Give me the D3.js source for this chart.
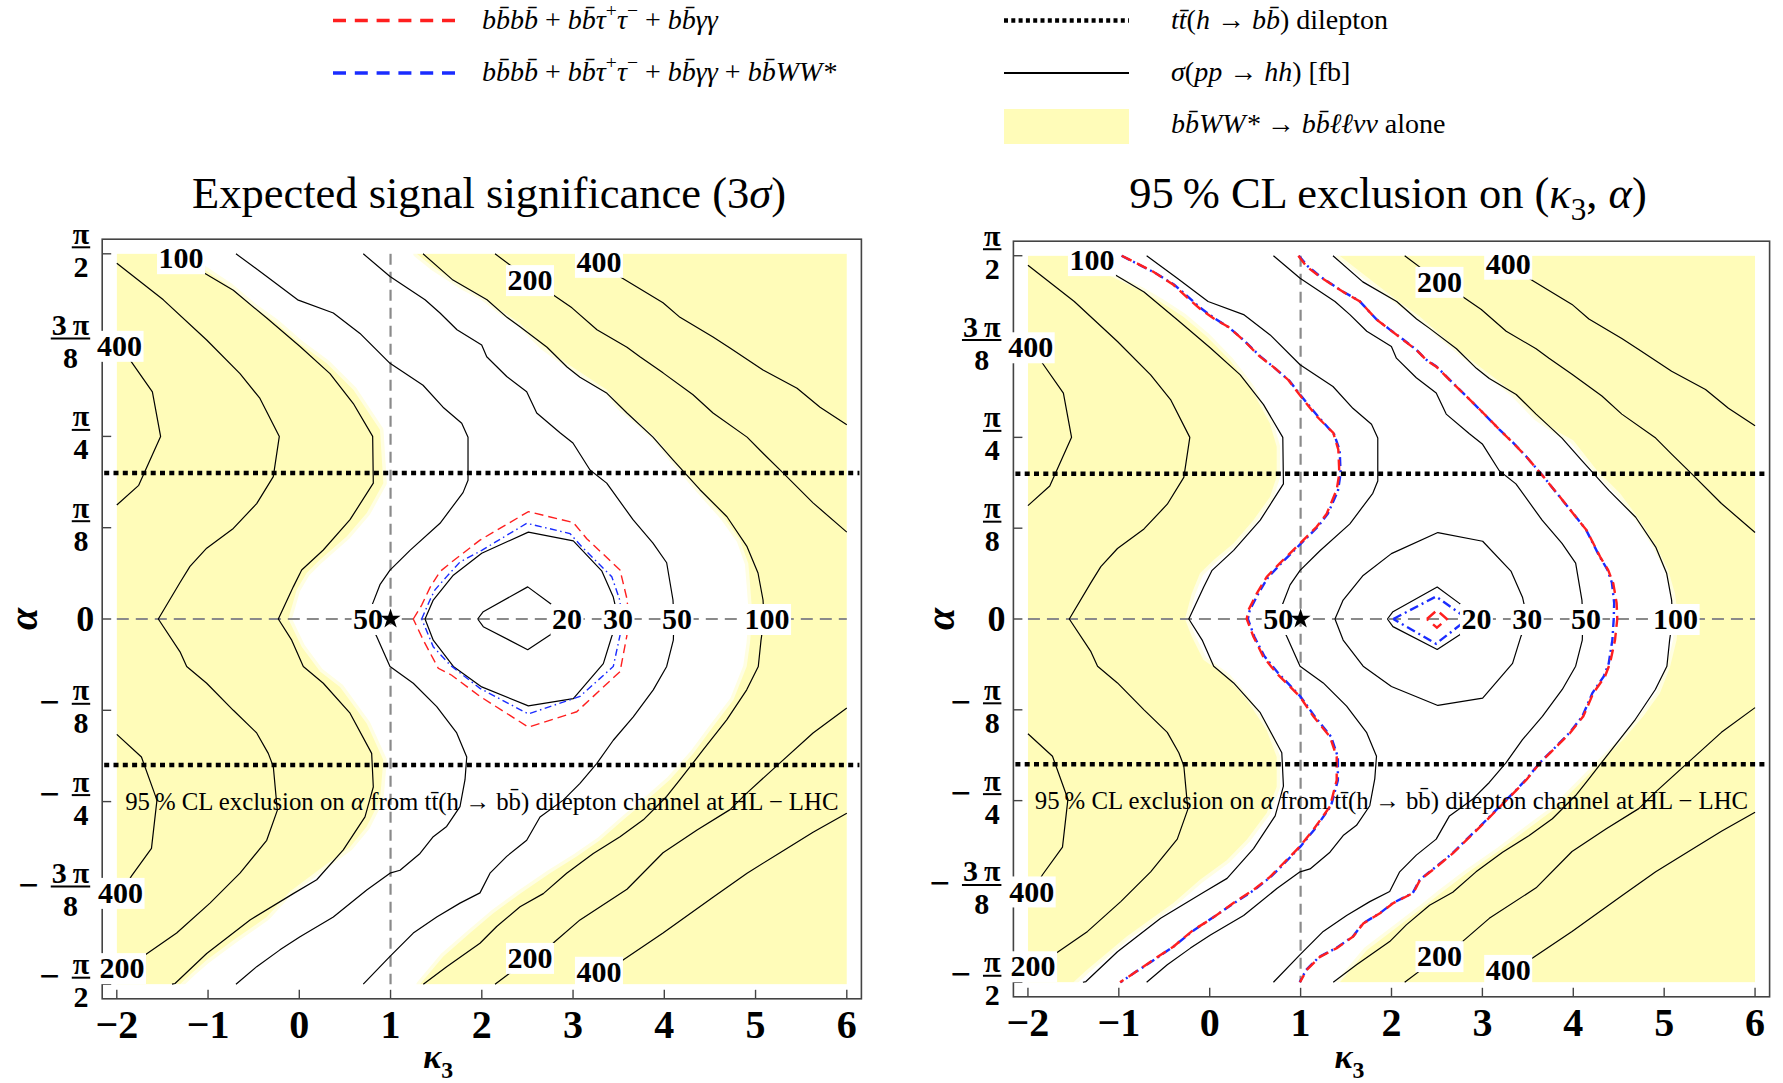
<!DOCTYPE html>
<html>
<head>
<meta charset="utf-8">
<script src="https://cdn.jsdelivr.net/npm/d3@7"></script>
<style>
  body { margin: 0; background: #fff; }
  svg { display: block; }
  text { font-family: "Liberation Serif", "Times New Roman", serif; fill: #000; }
</style>
</head>
<body>
<svg id="fig" width="1783" height="1083"></svg>
<script>
// ---------------------------------------------------------------
// Data: points are [kappa3, alpha / pi]
// ---------------------------------------------------------------
const kappaTicks = [-2, -1, 0, 1, 2, 3, 4, 5, 6];
const kappaTickLabels = ["\u22122", "\u22121", "0", "1", "2", "3", "4", "5", "6"];
const alphaTicks = [0.5, 0.375, 0.25, 0.125, 0, -0.125, -0.25, -0.375, -0.5];
const alphaTickSign = ["", "", "", "", "", "\u2212", "\u2212", "\u2212", "\u2212"];
const alphaTickNum = ["\u03c0", "3\u2009\u03c0", "\u03c0", "\u03c0", "0", "\u03c0", "\u03c0", "3\u2009\u03c0", "\u03c0"];
const alphaTickDen = ["2", "8", "4", "8", "", "8", "4", "8", "2"];

// tt(h -> bb) dilepton 95% CL bounds on alpha
const tthBounds = [0.2, -0.2];
// SM point
const smPoint = [1, 0];

// sigma(pp -> hh) contours [fb]
const sigma20 = [[1.955,0],[2.016,0.01],[2.503,0.044],[2.747,0.0215],[2.94,0],[2.747,-0.022],[2.503,-0.042],[2.016,-0.0105],[1.955,0]];
const sigma30 = [[1.378,0],[1.468,0.026],[1.688,0.06],[1.999,0.09],[2.51,0.119],[3.003,0.107],[3.314,0.066],[3.441,0.03],[3.496,0],[3.424,-0.024],[3.332,-0.061],[3.003,-0.109],[2.51,-0.119],[1.999,-0.093],[1.688,-0.065],[1.468,-0.029],[1.378,0]];
const sigma50Left = [[-0.694,0.5],[-0.357,0.469],[-0.018,0.437],[0.373,0.419],[0.665,0.391],[0.994,0.35],[1.356,0.32],[1.575,0.29],[1.78,0.268],[1.849,0.249],[1.849,0.19],[1.794,0.173],[1.542,0.131],[1.213,0.094],[0.994,0.067],[0.884,0.047],[0.797,0.019],[0.75,0],[0.848,-0.024],[0.994,-0.065],[1.249,-0.088],[1.506,-0.12],[1.725,-0.156],[1.835,-0.189],[1.816,-0.22],[1.761,-0.257],[1.615,-0.284],[1.468,-0.298],[1.323,-0.321],[1.104,-0.344],[0.994,-0.348],[0.739,-0.371],[0.373,-0.408],[0.008,-0.435],[-0.212,-0.453],[-0.467,-0.476],[-0.694,-0.5]];
const sigma50Right = [[0.701,0.5],[0.994,0.469],[1.378,0.437],[1.542,0.419],[1.728,0.396],[1.999,0.375],[2.054,0.359],[2.273,0.332],[2.492,0.311],[2.602,0.282],[2.857,0.255],[2.999,0.241],[3.186,0.204],[3.369,0.186],[3.657,0.136],[3.876,0.104],[4.026,0.077],[4.095,0.026],[4.106,0],[4.099,-0.029],[4.026,-0.065],[3.879,-0.097],[3.66,-0.134],[3.441,-0.166],[3.259,-0.198],[3.076,-0.225],[2.893,-0.248],[2.638,-0.271],[2.492,-0.303],[2.273,-0.325],[2.09,-0.348],[1.98,-0.375],[1.761,-0.389],[1.506,-0.408],[1.249,-0.43],[0.994,-0.462],[0.701,-0.5]];
const sigma100Left = [[-1.395,0.5],[-1.033,0.473],[-0.723,0.45],[-0.357,0.412],[0.008,0.373],[0.336,0.336],[0.592,0.295],[0.804,0.25],[0.811,0.186],[0.556,0.136],[0.263,0.0945],[0.026,0.067],[-0.066,0.044],[-0.23,0],[-0.083,-0.029],[0.044,-0.065],[0.263,-0.088],[0.556,-0.129],[0.793,-0.184],[0.811,-0.23],[0.72,-0.271],[0.482,-0.316],[0.191,-0.357],[-0.066,-0.376],[-0.54,-0.412],[-1.015,-0.458],[-1.362,-0.499],[-1.395,-0.5]];
const sigma100Right = [[1.356,0.5],[1.684,0.464],[2.057,0.437],[2.276,0.413],[2.419,0.4],[2.715,0.372],[2.934,0.345],[3.076,0.331],[3.372,0.309],[3.591,0.282],[3.876,0.249],[4.095,0.218],[4.391,0.177],[4.687,0.14],[4.907,0.099],[5.027,0.063],[5.082,0.026],[5.093,0],[5.06,-0.029],[5.03,-0.065],[4.903,-0.097],[4.684,-0.138],[4.427,-0.179],[4.172,-0.22],[4.026,-0.243],[3.77,-0.275],[3.515,-0.298],[3.222,-0.321],[2.93,-0.348],[2.674,-0.376],[2.419,-0.394],[2.163,-0.421],[1.98,-0.444],[1.615,-0.476],[1.359,-0.5]];
const sigma200Left = [[-2,0.487],[-1.49,0.437],[-1.015,0.382],[-0.65,0.336],[-0.431,0.302],[-0.219,0.25],[-0.285,0.195],[-0.467,0.158],[-0.723,0.124],[-1.015,0.097],[-1.198,0.072],[-1.307,0.05],[-1.545,0],[-1.307,-0.045],[-1.234,-0.065],[-1.015,-0.088],[-0.723,-0.125],[-0.467,-0.156],[-0.34,-0.184],[-0.285,-0.202],[-0.241,-0.262],[-0.357,-0.303],[-0.65,-0.348],[-0.979,-0.389],[-1.344,-0.43],[-1.691,-0.46],[-2,-0.487]];
const sigma200RightUpper = [[2.145,0.5],[2.528,0.464],[2.78,0.444],[2.988,0.426],[3.262,0.396],[3.591,0.372],[3.733,0.359],[3.986,0.337],[4.315,0.307],[4.534,0.282],[4.907,0.249],[5.082,0.227],[5.301,0.2],[5.63,0.159],[6,0.119]];
const sigma200RightLower = [[6,-0.122],[5.63,-0.156],[5.268,-0.197],[4.907,-0.238],[4.72,-0.261],[4.359,-0.289],[3.986,-0.32],[3.591,-0.37],[3.076,-0.412],[2.78,-0.444],[2.528,-0.464],[2.145,-0.5]];
const sigma400LeftUpper = [[-2,0.385],[-1.84,0.352],[-1.61,0.311],[-1.52,0.25],[-1.76,0.183],[-2,0.156]];
const sigma400LeftLower = [[-2,-0.158],[-1.73,-0.189],[-1.56,-0.248],[-1.62,-0.314],[-1.84,-0.352],[-2,-0.385]];
const sigma400RightUpper = [[3.13,0.5],[3.284,0.489],[3.537,0.467],[3.986,0.433],[4.172,0.413],[4.534,0.386],[4.72,0.371],[5.082,0.341],[5.455,0.316],[5.707,0.29],[6,0.266]];
const sigma400RightLower = [[6,-0.266],[5.63,-0.292],[5.268,-0.32],[4.907,-0.348],[4.534,-0.381],[3.986,-0.43],[3.548,-0.467],[3.284,-0.483],[3.13,-0.5]];

const sigmaContours = [sigma20, sigma30, sigma50Left, sigma50Right, sigma100Left, sigma100Right,
  sigma200Left, sigma200RightUpper, sigma200RightLower,
  sigma400LeftUpper, sigma400LeftLower, sigma400RightUpper, sigma400RightLower];

// contour labels
const labelText  = ["100", "400", "200", "400", "50", "20", "30", "50", "100", "400", "200", "200", "400"];
const labelKappa = [-1.296, -1.97, 2.528, 3.284, 0.753, 2.934, 3.493, 4.14, 5.126, -1.959, -1.943, 2.528, 3.284];
const labelAlpha = [0.494, 0.374, 0.464, 0.489, 0, 0, 0, 0, 0, -0.375, -0.478, -0.464, -0.483];

// 3 sigma discovery reach
const discRed = [[1.249,0],[1.341,0.019],[1.432,0.043],[1.542,0.065],[1.67,0.078],[1.98,0.108],[2.51,0.147],[3.003,0.132],[3.15,0.11],[3.515,0.067],[3.588,0.029],[3.616,0],[3.588,-0.024],[3.515,-0.072],[3.04,-0.127],[2.51,-0.148],[1.98,-0.106],[1.67,-0.077],[1.523,-0.0675],[1.359,-0.029],[1.249,0]];
const discBlue = [[1.341,0],[1.432,0.026],[1.487,0.04],[1.615,0.058],[1.761,0.078],[1.999,0.094],[2.492,0.131],[2.967,0.117],[3.095,0.099],[3.424,0.058],[3.507,0.028],[3.544,0],[3.515,-0.022],[3.441,-0.065],[3.076,-0.106],[2.51,-0.13],[1.98,-0.095],[1.652,-0.063],[1.468,-0.038],[1.341,0]];
// bbWW* alone, 3 sigma region
const discYellowLeft = [[-2,0.5],[-1.3,0.5],[-1.033,0.478],[-0.759,0.455],[-0.504,0.428],[-0.248,0.405],[0.008,0.377],[0.3,0.35],[0.592,0.314],[0.884,0.259],[0.921,0.186],[0.739,0.145],[0.519,0.113],[0.227,0.081],[0.081,0.063],[-0.028,0.04],[-0.121,0],[0.026,-0.038],[0.227,-0.072],[0.446,-0.093],[0.739,-0.143],[0.921,-0.193],[0.884,-0.248],[0.739,-0.284],[0.556,-0.312],[0.263,-0.339],[-0.102,-0.373],[-0.357,-0.408],[-0.723,-0.44],[-1.015,-0.467],[-1.179,-0.485],[-1.307,-0.5],[-2,-0.5]];
const discYellowRight = [[1.287,0.5],[1.468,0.482],[1.797,0.455],[2.016,0.441],[2.199,0.423],[2.419,0.405],[2.674,0.373],[2.93,0.35],[3.15,0.332],[3.369,0.314],[3.515,0.291],[3.734,0.268],[3.917,0.247],[4.099,0.218],[4.355,0.181],[4.647,0.14],[4.83,0.108],[4.921,0.076],[4.939,0.049],[4.958,0.017],[4.961,0],[4.939,-0.033],[4.903,-0.065],[4.757,-0.111],[4.537,-0.147],[4.318,-0.184],[4.062,-0.22],[3.807,-0.248],[3.551,-0.275],[3.295,-0.303],[3.04,-0.325],[2.747,-0.348],[2.419,-0.376],[2.126,-0.403],[1.871,-0.43],[1.578,-0.462],[1.323,-0.5],[6,-0.5],[6,0.5]];

// 95% CL exclusion
const exclRedLeft = [[-0.968,0.5],[-0.84,0.492],[-0.62,0.478],[-0.4,0.46],[-0.235,0.441],[-0.107,0.427],[0.04,0.414],[0.205,0.402],[0.37,0.384],[0.553,0.361],[0.7,0.347],[0.865,0.329],[0.993,0.308],[1.177,0.279],[1.36,0.256],[1.415,0.233],[1.426,0.2005],[1.397,0.178],[1.287,0.145],[1.177,0.127],[0.993,0.104],[0.773,0.077],[0.627,0.058],[0.517,0.035],[0.425,0.012],[0.407,0],[0.48,-0.024],[0.59,-0.052],[0.737,-0.075],[0.883,-0.093],[0.993,-0.107],[1.14,-0.134],[1.323,-0.162],[1.397,-0.19],[1.397,-0.222],[1.323,-0.258],[1.14,-0.29],[0.993,-0.313],[0.773,-0.341],[0.663,-0.355],[0.48,-0.373],[0.26,-0.391],[0.003,-0.414],[-0.18,-0.428],[-0.4,-0.451],[-0.62,-0.469],[-0.84,-0.488],[-0.987,-0.5]];
const exclBlueLeft = [[-0.97,0.5],[-0.83,0.491],[-0.61,0.477],[-0.39,0.46],[-0.225,0.442],[-0.1,0.428],[0.05,0.414],[0.215,0.401],[0.38,0.383],[0.56,0.361],[0.71,0.346],[0.875,0.328],[1.0,0.308],[1.19,0.279],[1.37,0.254],[1.43,0.232],[1.44,0.2],[1.41,0.176],[1.3,0.145],[1.19,0.127],[1.005,0.104],[0.79,0.077],[0.64,0.057],[0.53,0.034],[0.44,0.012],[0.42,0],[0.49,-0.024],[0.6,-0.051],[0.75,-0.074],[0.895,-0.093],[1.0,-0.107],[1.155,-0.134],[1.335,-0.162],[1.41,-0.19],[1.41,-0.222],[1.335,-0.257],[1.15,-0.29],[1.0,-0.313],[0.785,-0.341],[0.67,-0.355],[0.49,-0.373],[0.27,-0.391],[0.01,-0.413],[-0.17,-0.428],[-0.39,-0.45],[-0.61,-0.469],[-0.83,-0.487],[-0.98,-0.5]];
const exclRedRight = [[0.975,0.5],[1.067,0.485],[1.213,0.471],[1.47,0.45],[1.653,0.437],[1.837,0.412],[1.984,0.398],[2.13,0.384],[2.277,0.37],[2.387,0.356],[2.497,0.347],[2.68,0.324],[2.827,0.306],[2.974,0.288],[3.194,0.26],[3.34,0.242],[3.487,0.223],[3.67,0.196],[3.854,0.168],[4.0,0.145],[4.147,0.122],[4.294,0.086],[4.385,0.067],[4.44,0.049],[4.477,0.022],[4.484,0],[4.459,-0.029],[4.404,-0.061],[4.349,-0.079],[4.22,-0.102],[4.11,-0.134],[3.964,-0.157],[3.78,-0.18],[3.634,-0.198],[3.487,-0.221],[3.34,-0.24],[3.157,-0.263],[2.974,-0.286],[2.827,-0.304],[2.68,-0.322],[2.497,-0.341],[2.314,-0.359],[2.24,-0.377],[2.02,-0.391],[1.873,-0.405],[1.69,-0.419],[1.58,-0.437],[1.397,-0.453],[1.213,-0.465],[1.067,-0.483],[0.993,-0.5]];
const exclBlueRight = [[0.98,0.5],[1.075,0.486],[1.22,0.471],[1.46,0.451],[1.645,0.438],[1.83,0.413],[1.975,0.399],[2.125,0.385],[2.27,0.371],[2.38,0.357],[2.49,0.348],[2.675,0.325],[2.82,0.307],[2.965,0.289],[3.185,0.261],[3.335,0.243],[3.48,0.224],[3.665,0.197],[3.845,0.169],[3.995,0.146],[4.14,0.123],[4.285,0.087],[4.375,0.068],[4.425,0.05],[4.45,0.022],[4.445,0],[4.43,-0.029],[4.39,-0.061],[4.335,-0.079],[4.21,-0.102],[4.1,-0.134],[3.955,-0.157],[3.775,-0.18],[3.63,-0.198],[3.48,-0.221],[3.335,-0.24],[3.15,-0.263],[2.97,-0.286],[2.82,-0.304],[2.675,-0.322],[2.49,-0.341],[2.31,-0.359],[2.235,-0.377],[2.015,-0.391],[1.87,-0.405],[1.685,-0.419],[1.575,-0.437],[1.39,-0.453],[1.205,-0.465],[1.06,-0.483],[0.99,-0.5]];
const exclRedCore = [[2.39,0],[2.5,0.012],[2.61,0],[2.5,-0.012],[2.39,0]];
const exclBlueCore = [[2.02,0],[2.49,0.031],[2.84,0],[2.49,-0.034],[2.02,0]];
// bbWW* alone, 95% CL region
const exclYellowLeft = [[-2,0.5],[-1.45,0.5],[-1.08,0.471],[-0.767,0.453],[-0.547,0.437],[-0.29,0.416],[-0.033,0.389],[0.223,0.356],[0.443,0.32],[0.663,0.269],[0.737,0.237],[0.737,0.196],[0.663,0.168],[0.48,0.136],[0.26,0.104],[0.04,0.081],[-0.107,0.063],[-0.198,0.035],[-0.272,0],[-0.198,-0.024],[-0.07,-0.056],[0.187,-0.079],[0.407,-0.111],[0.627,-0.153],[0.737,-0.19],[0.737,-0.231],[0.627,-0.267],[0.407,-0.304],[0.187,-0.332],[-0.107,-0.359],[-0.4,-0.391],[-0.657,-0.414],[-0.913,-0.437],[-1.133,-0.46],[-1.353,-0.483],[-1.5,-0.5],[-2,-0.5]];
const exclYellowRight = [[1.43,0.5],[1.727,0.471],[2.057,0.439],[2.314,0.416],[2.607,0.384],[2.827,0.361],[3.12,0.333],[3.34,0.311],[3.597,0.278],[3.854,0.256],[4.0,0.246],[4.257,0.205],[4.514,0.173],[4.734,0.136],[4.917,0.0995],[5.045,0.067],[5.119,0.035],[5.155,0],[5.137,-0.029],[5.064,-0.066],[4.954,-0.102],[4.77,-0.134],[4.55,-0.166],[4.294,-0.198],[4.074,-0.226],[3.78,-0.263],[3.487,-0.29],[3.194,-0.318],[2.827,-0.35],[2.534,-0.378],[2.314,-0.4],[2.02,-0.428],[1.727,-0.456],[1.433,-0.5],[6,-0.5],[6,0.5]];

// ---------------------------------------------------------------
// Styles
// ---------------------------------------------------------------
const YELLOW = "#fffcb9";
const RED = "#ff1f1f";
const BLUE = "#1a2cff";
const bb = "b\u0304";

const svg = d3.select("#fig");

// Build mixed roman / italic / super- / subscript text
function richText(textSel, parts, size) {
  let shift = 0;
  parts.forEach(([str, kind]) => {
    const t = textSel.append("tspan").text(str);
    if (kind === "i") t.attr("font-style", "italic");
    if (kind === "sup" || kind === "sub") {
      const target = kind === "sup" ? -0.42 * size : 0.28 * size;
      t.attr("font-size", size * 0.7).attr("dy", target - shift);
      shift = target;
    } else if (shift !== 0) {
      t.attr("dy", -shift);
      shift = 0;
    }
  });
}

// ---------------------------------------------------------------
// Legend
// ---------------------------------------------------------------
const legend = svg.append("g");
const legFont = 28;
legend.append("line").attr("x1", 333).attr("x2", 455).attr("y1", 20.5).attr("y2", 20.5)
  .attr("stroke", RED).attr("stroke-width", 3.5).attr("stroke-dasharray", "13 8.8");
legend.append("line").attr("x1", 333).attr("x2", 455).attr("y1", 73).attr("y2", 73)
  .attr("stroke", BLUE).attr("stroke-width", 3.5).attr("stroke-dasharray", "13 8.8");
legend.append("line").attr("x1", 1004).attr("x2", 1129).attr("y1", 20.5).attr("y2", 20.5)
  .attr("stroke", "#000").attr("stroke-width", 4.5).attr("stroke-dasharray", "4 3.3");
legend.append("line").attr("x1", 1004).attr("x2", 1129).attr("y1", 73).attr("y2", 73)
  .attr("stroke", "#000").attr("stroke-width", 2.2);
legend.append("rect").attr("x", 1004).attr("y", 109).attr("width", 125).attr("height", 35).attr("fill", YELLOW);

const legendItems = [
  {x: 482, y: 29, parts: [["b" + bb + "b" + bb, "i"], [" + ", "r"], ["b" + bb + "\u03c4", "i"], ["+", "sup"], ["\u03c4", "i"], ["\u2212", "sup"], [" + ", "r"], ["b" + bb + "\u03b3\u03b3", "i"]]},
  {x: 482, y: 81, parts: [["b" + bb + "b" + bb, "i"], [" + ", "r"], ["b" + bb + "\u03c4", "i"], ["+", "sup"], ["\u03c4", "i"], ["\u2212", "sup"], [" + ", "r"], ["b" + bb + "\u03b3\u03b3", "i"], [" + ", "r"], ["b" + bb + "WW*", "i"]]},
  {x: 1171, y: 29, parts: [["tt\u0304", "i"], ["(", "r"], ["h", "i"], [" \u2192 ", "r"], ["b" + bb, "i"], [")", "r"], [" dilepton", "r"]]},
  {x: 1171, y: 81, parts: [["\u03c3", "i"], ["(", "r"], ["pp", "i"], [" \u2192 ", "r"], ["hh", "i"], [")", "r"], [" [fb]", "r"]]},
  {x: 1171, y: 133, parts: [["b" + bb + "WW*", "i"], [" \u2192 ", "r"], ["b" + bb + "\u2113\u2113\u03bd\u03bd", "i"], [" alone", "r"]]}
];
legendItems.forEach(item => {
  const t = legend.append("text").attr("x", item.x).attr("y", item.y).attr("font-size", legFont);
  richText(t, item.parts, legFont);
});

// ---------------------------------------------------------------
// Panels
// ---------------------------------------------------------------
const panels = [
  {x0: 102.2, y0: 239.2, w: 759.2, h: 759.6, titleX: 489, alphaX: 23,
   title: [["Expected signal significance (3", "r"], ["\u03c3", "i"], [")", "r"]],
   yellow: [discYellowLeft, discYellowRight],
   blue: [discBlue], red: [discRed], colorWidth: 1.4,
   redDash: "9 5", blueDash: "7 3.5 1.5 3.5"},
  {x0: 1013.4, y0: 241.2, w: 756.2, h: 755.6, titleX: 1388, alphaX: 940,
   title: [["95\u2009% CL exclusion on (", "r"], ["\u03ba", "i"], ["3", "sub"], [", ", "r"], ["\u03b1", "i"], [")", "r"]],
   yellow: [exclYellowLeft, exclYellowRight],
   blue: [exclBlueLeft, exclBlueRight, exclBlueCore], red: [exclRedLeft, exclRedRight, exclRedCore], colorWidth: 2.4,
   redDash: "11 6", blueDash: "9 4 2 4"}
];

panels.forEach((p, pi) => {
  const x = d3.scaleLinear().domain([-2.16, 6.16]).range([p.x0, p.x0 + p.w]);
  const y = d3.scaleLinear().domain([-0.52, 0.52]).range([p.y0 + p.h, p.y0]);
  const line = d3.line().x(d => x(d[0])).y(d => y(d[1]));
  const g = svg.append("g");

  const clipId = "clip" + pi;
  g.append("clipPath").attr("id", clipId).append("rect")
    .attr("x", x(-2)).attr("y", y(0.5)).attr("width", x(6) - x(-2)).attr("height", y(-0.5) - y(0.5));

  // yellow regions with a soft pale rim
  const yg = g.append("g").attr("clip-path", `url(#${clipId})`);
  p.yellow.forEach(poly => {
    yg.append("path").attr("d", line(poly) + "Z").attr("fill", "none")
      .attr("stroke", "#fffee2").attr("stroke-width", 7).attr("stroke-linejoin", "round");
  });
  p.yellow.forEach(poly => {
    yg.append("path").attr("d", line(poly) + "Z").attr("fill", YELLOW);
  });

  // reference lines through the SM point
  g.append("line").attr("x1", x(smPoint[0])).attr("x2", x(smPoint[0])).attr("y1", y(0.5)).attr("y2", y(-0.5))
    .attr("stroke", "#8a8a8a").attr("stroke-width", 2.2).attr("stroke-dasharray", "11 7");
  g.append("line").attr("x1", x(-2)).attr("x2", x(6)).attr("y1", y(smPoint[1])).attr("y2", y(smPoint[1]))
    .attr("stroke", "#8a8a8a").attr("stroke-width", 2.2).attr("stroke-dasharray", "12 7");

  // cross-section contours
  sigmaContours.forEach(c => {
    g.append("path").attr("d", line(c)).attr("fill", "none")
      .attr("stroke", "#000").attr("stroke-width", 1.2).attr("stroke-linejoin", "round");
  });

  // channel-combination contours
  p.blue.forEach(c => {
    g.append("path").attr("d", line(c)).attr("fill", "none").attr("stroke", BLUE)
      .attr("stroke-width", p.colorWidth).attr("stroke-dasharray", p.blueDash);
  });
  p.red.forEach(c => {
    g.append("path").attr("d", line(c)).attr("fill", "none").attr("stroke", RED)
      .attr("stroke-width", p.colorWidth).attr("stroke-dasharray", p.redDash);
  });

  // tt(h->bb) bounds on alpha
  tthBounds.forEach(a => {
    g.append("line").attr("x1", p.x0 + 2).attr("x2", p.x0 + p.w - 2).attr("y1", y(a)).attr("y2", y(a))
      .attr("stroke", "#000").attr("stroke-width", 4.5).attr("stroke-dasharray", "5 4.3");
  });

  g.append("text").attr("x", x(2)).attr("y", y(-0.25)).attr("dy", "0.33em")
    .attr("text-anchor", "middle").attr("font-size", 24.8)
    .call(t => richText(t, [["95\u2009% CL exclusion on ", "r"], ["\u03b1", "i"], [" from tt\u0304(h \u2192 bb\u0304) dilepton channel at HL \u2212 LHC", "r"]], 24.8));

  // frame and ticks
  g.append("rect").attr("x", p.x0).attr("y", p.y0).attr("width", p.w).attr("height", p.h)
    .attr("fill", "none").attr("stroke", "#444").attr("stroke-width", 1.6);
  kappaTicks.forEach((k, i) => {
    g.append("line").attr("x1", x(k)).attr("x2", x(k)).attr("y1", p.y0 + p.h).attr("y2", p.y0 + p.h - 9)
      .attr("stroke", "#444").attr("stroke-width", 1.4);
    g.append("text").attr("x", x(k)).attr("y", p.y0 + p.h + 39).attr("text-anchor", "middle")
      .attr("font-size", 40).attr("font-weight", "bold").text(kappaTickLabels[i]);
  });
  alphaTicks.forEach((a, i) => {
    const ty = y(a);
    g.append("line").attr("x1", p.x0).attr("x2", p.x0 + 9).attr("y1", ty).attr("y2", ty)
      .attr("stroke", "#444").attr("stroke-width", 1.4);
    const right = p.x0 - 12;
    if (alphaTickDen[i] === "") {
      g.append("text").attr("x", p.x0 - 8).attr("y", ty + 12).attr("text-anchor", "end")
        .attr("font-size", 36).attr("font-weight", "bold").text(alphaTickNum[i]);
      return;
    }
    const num = g.append("text").attr("y", ty - 10).attr("text-anchor", "middle")
      .attr("font-size", 30).attr("font-weight", "bold").text(alphaTickNum[i]);
    const den = g.append("text").attr("y", ty + 23).attr("text-anchor", "middle")
      .attr("font-size", 30).attr("font-weight", "bold").text(alphaTickDen[i]);
    const wNum = num.node().getComputedTextLength();
    const wDen = den.node().getComputedTextLength();
    const wBar = Math.max(wNum, wDen) + 2;
    const cx = right - wBar / 2;
    num.attr("x", cx);
    den.attr("x", cx);
    g.append("line").attr("x1", right - wBar).attr("x2", right).attr("y1", ty - 6.5).attr("y2", ty - 6.5)
      .attr("stroke", "#000").attr("stroke-width", 2);
    if (alphaTickSign[i]) {
      g.append("text").attr("x", right - wBar - 12).attr("y", ty + 4).attr("text-anchor", "end")
        .attr("font-size", 36).attr("font-weight", "bold").text(alphaTickSign[i]);
    }
  });

  // contour labels on white boxes
  labelText.forEach((s, i) => {
    const lx = x(labelKappa[i]), ly = y(labelAlpha[i]);
    const box = g.append("rect").attr("fill", "#fff");
    const t = g.append("text").attr("x", lx).attr("y", ly).attr("dy", "0.34em")
      .attr("text-anchor", "middle").attr("font-size", 30).attr("font-weight", "bold").text(s);
    const wt = t.node().getComputedTextLength();
    box.attr("x", lx - wt / 2 - 1.5).attr("y", ly - 15).attr("width", wt + 3).attr("height", 31);
  });

  // SM point
  g.append("path").attr("d", d3.symbol(d3.symbolStar, 125)())
    .attr("transform", `translate(${x(smPoint[0])},${y(smPoint[1])})`).attr("fill", "#000");

  // axis titles
  g.append("text").attr("transform", `translate(${p.alphaX + 14},${y(0)}) rotate(-90)`)
    .attr("text-anchor", "middle").attr("font-size", 40).attr("font-weight", "bold")
    .attr("font-style", "italic").text("\u03b1");
  g.append("text").attr("x", p.x0 + 321).attr("y", 1068).attr("font-size", 34).attr("font-weight", "bold")
    .call(t => richText(t, [["\u03ba", "i"], ["3", "sub"]], 34));

  // panel title
  g.append("text").attr("x", p.titleX).attr("y", 208).attr("text-anchor", "middle").attr("font-size", 44.5)
    .call(t => richText(t, p.title, 44.5));
});
</script>
</body>
</html>
